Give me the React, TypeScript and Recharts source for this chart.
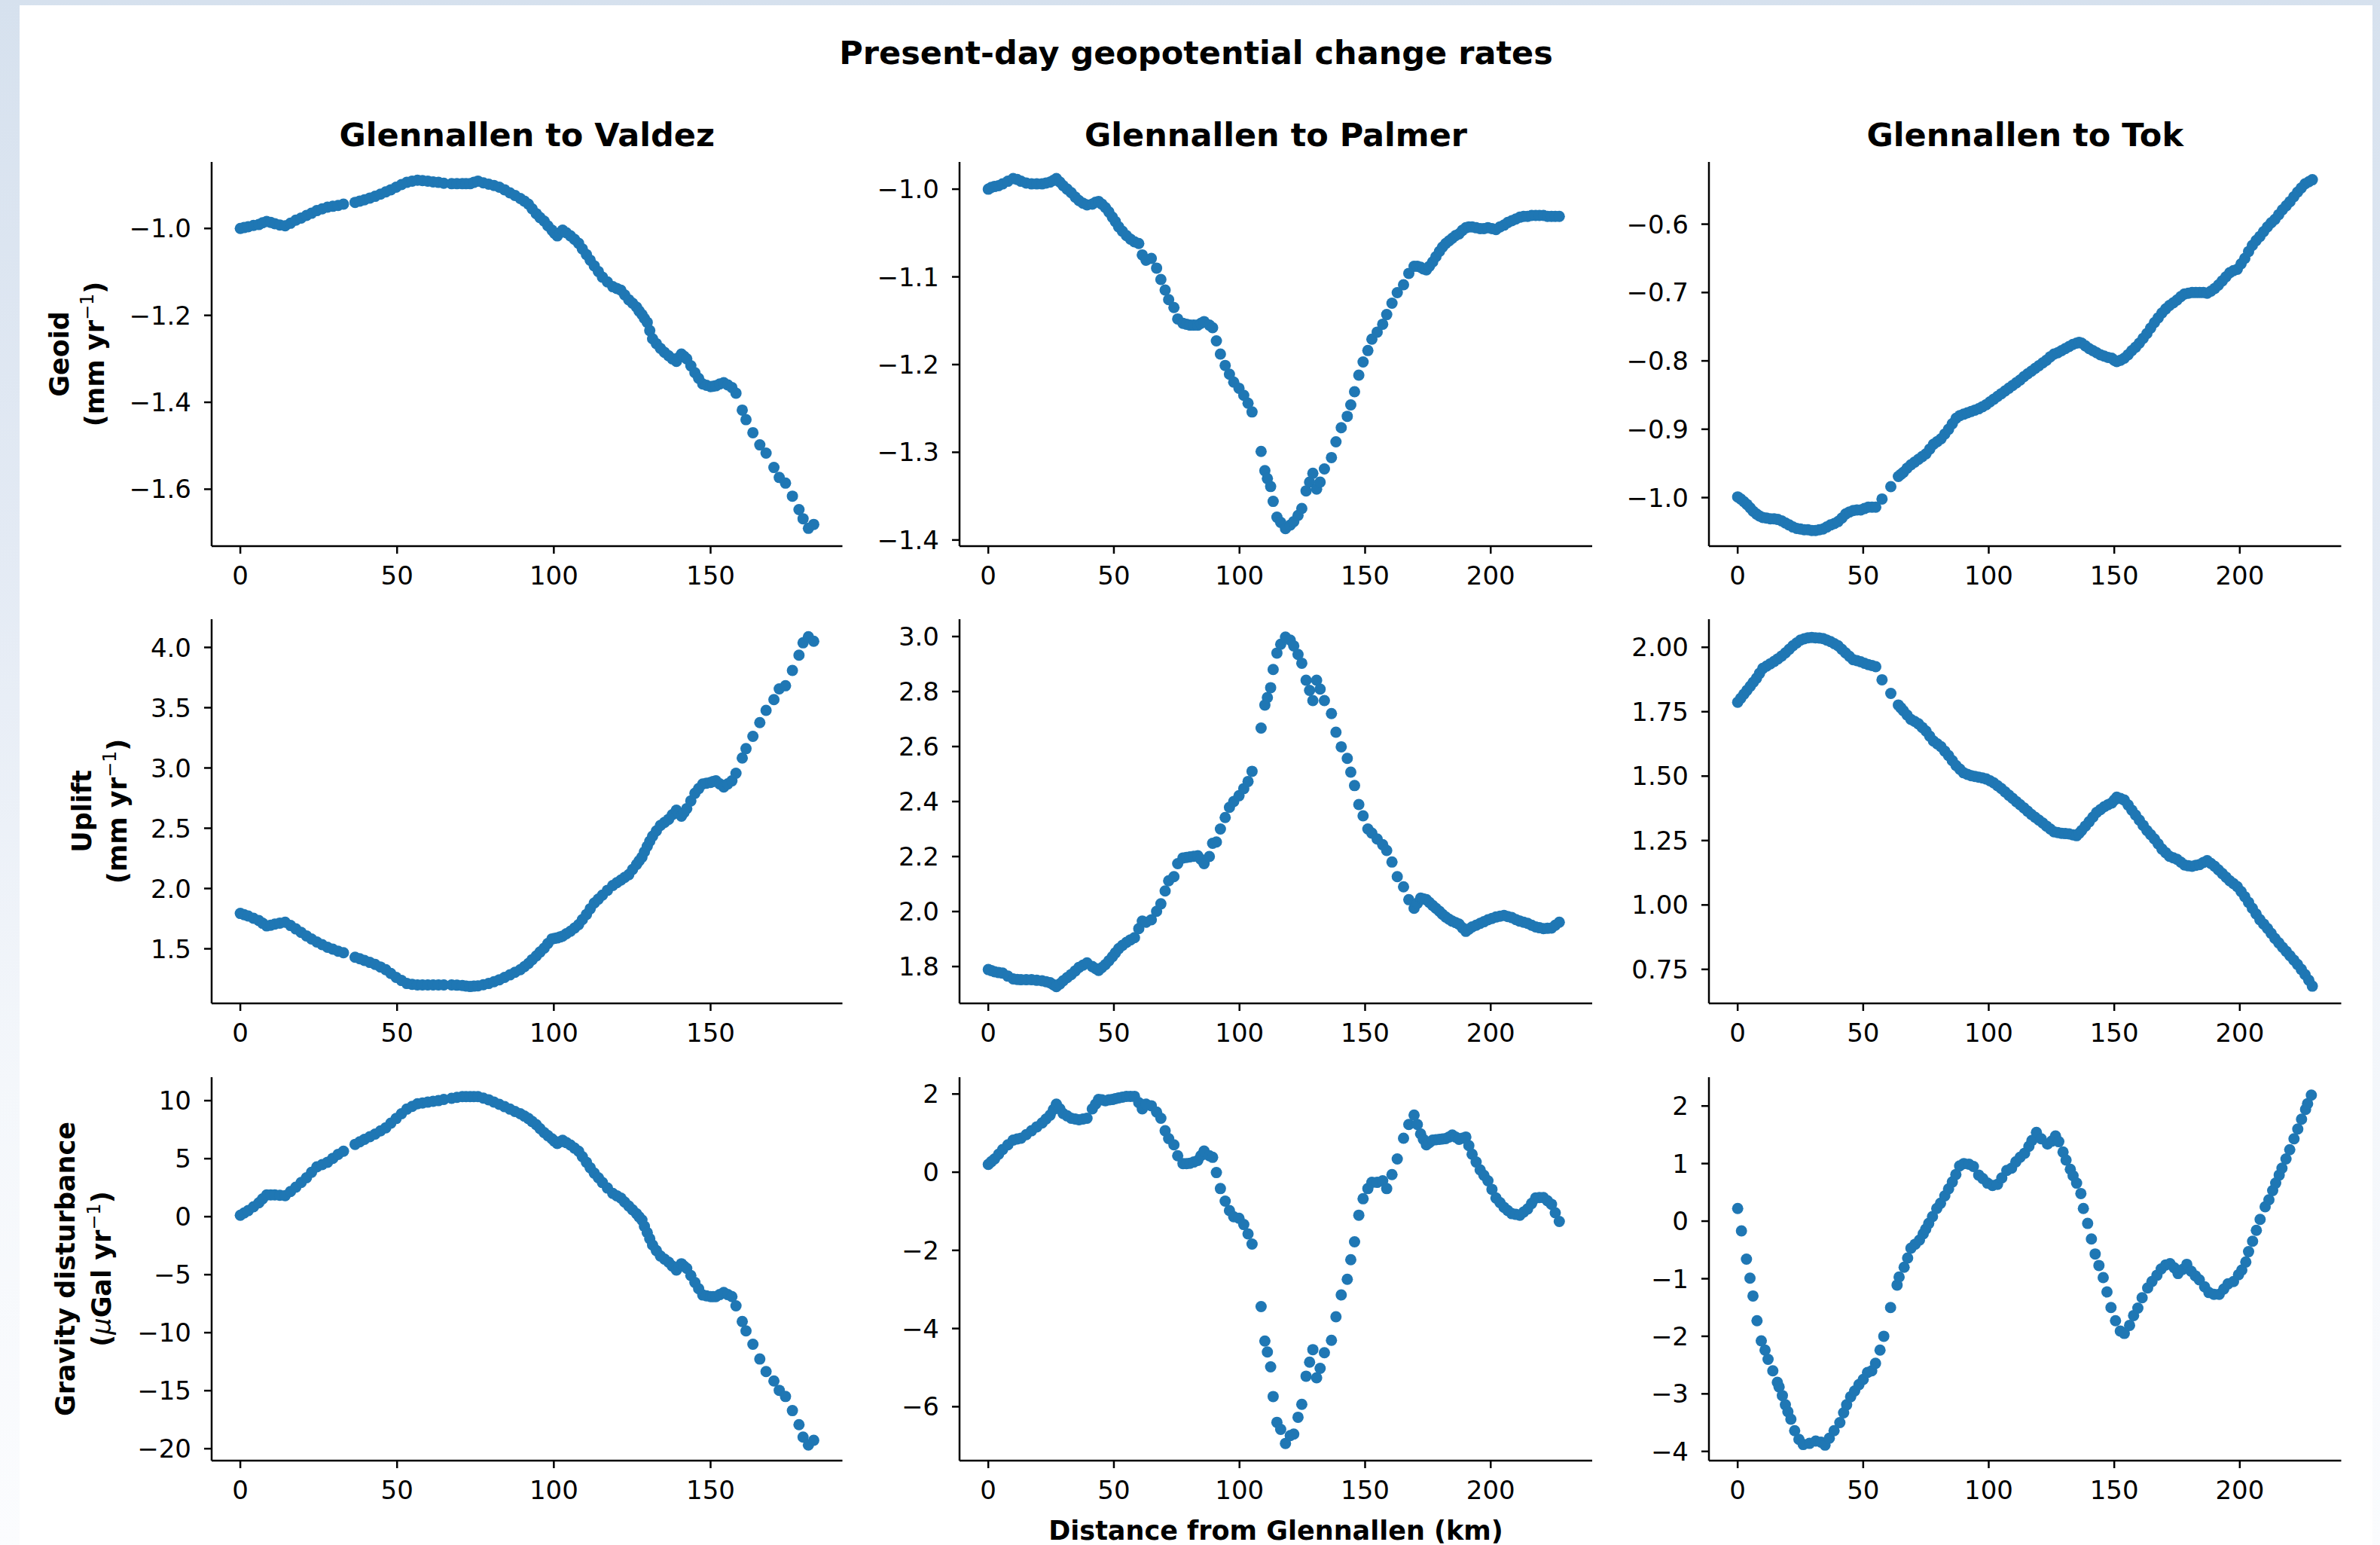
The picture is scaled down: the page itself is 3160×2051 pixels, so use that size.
import React from 'react';
import { ScatterChart, Scatter, XAxis, YAxis } from 'recharts';

// distance along each road (km) and the rates
const valdezKm = [
  0, 1.2, 2.5, 4.2, 5.9, 7.1, 8.4, 9.7, 11.0, 12.6,
  14.3, 16.0, 17.7, 19.4, 21.1, 22.7, 24.4, 26.1, 27.8, 29.5,
  31.2, 32.9, 36.6, 38.1, 39.6, 41.3, 43.0, 44.7, 46.4, 48.0,
  49.7, 51.4, 53.1, 54.8, 56.5, 58.1, 59.8, 61.5, 63.2, 64.9,
  67.4, 69.1, 70.8, 72.0, 73.3, 74.5, 75.8, 77.5, 79.2, 80.9,
  82.6, 84.3, 86.0, 87.6, 89.3, 90.6, 91.9, 93.1, 94.4, 95.6,
  96.9, 98.1, 99.4, 100.2, 101.1, 102.0, 102.8, 104.0, 105.3, 106.6,
  107.9, 109.1, 110.4, 111.6, 112.9, 114.2, 115.5, 117.1, 118.8, 120.1,
  121.4, 122.6, 123.9, 125.1, 126.4, 127.2, 128.1, 128.9, 129.8, 130.6,
  131.5, 132.7, 134.0, 135.3, 136.6, 137.8, 139.1, 139.9, 140.7, 141.5,
  142.4, 143.7, 145.0, 146.2, 147.5, 148.7, 150.0, 150.8, 151.7, 152.9,
  154.2, 155.5, 156.8, 158.1, 160.1, 161.3, 163.5, 165.7, 167.7, 170.2,
  171.9, 173.9, 176.1, 178.2, 179.5, 181.2, 182.9,
];
const valdezGeoid = [
  -1.0, -0.998, -0.996, -0.993, -0.991, -0.987, -0.984, -0.986, -0.989, -0.992,
  -0.994, -0.988, -0.981, -0.976, -0.970, -0.965, -0.959, -0.955, -0.951, -0.949,
  -0.947, -0.944, -0.940, -0.937, -0.934, -0.930, -0.926, -0.921, -0.916, -0.911,
  -0.905, -0.899, -0.894, -0.891, -0.889, -0.890, -0.891, -0.893, -0.894, -0.896,
  -0.897, -0.897, -0.897, -0.897, -0.897, -0.894, -0.891, -0.895, -0.898, -0.901,
  -0.905, -0.911, -0.918, -0.924, -0.931, -0.937, -0.944, -0.955, -0.966, -0.975,
  -0.983, -0.994, -1.004, -1.011, -1.017, -1.010, -1.004, -1.010, -1.017, -1.025,
  -1.034, -1.047, -1.060, -1.073, -1.086, -1.099, -1.112, -1.123, -1.134, -1.138,
  -1.142, -1.153, -1.164, -1.172, -1.181, -1.190, -1.198, -1.207, -1.216, -1.235,
  -1.254, -1.265, -1.276, -1.285, -1.293, -1.300, -1.306, -1.297, -1.289, -1.294,
  -1.300, -1.316, -1.332, -1.345, -1.358, -1.361, -1.364, -1.363, -1.362, -1.358,
  -1.355, -1.360, -1.366, -1.379, -1.418, -1.440, -1.470, -1.498, -1.517, -1.550,
  -1.573, -1.586, -1.616, -1.647, -1.668, -1.690, -1.681,
];
const valdezUplift = [
  1.793, 1.783, 1.772, 1.753, 1.734, 1.712, 1.690, 1.695, 1.705, 1.713,
  1.720, 1.693, 1.665, 1.636, 1.607, 1.581, 1.556, 1.534, 1.513, 1.497,
  1.480, 1.467, 1.430, 1.417, 1.403, 1.387, 1.370, 1.349, 1.327, 1.295,
  1.263, 1.237, 1.212, 1.205, 1.200, 1.200, 1.200, 1.200, 1.200, 1.200,
  1.200, 1.198, 1.195, 1.191, 1.187, 1.190, 1.192, 1.202, 1.212, 1.227,
  1.243, 1.263, 1.284, 1.305, 1.327, 1.352, 1.378, 1.410, 1.441, 1.473,
  1.505, 1.544, 1.582, 1.586, 1.590, 1.598, 1.605, 1.625, 1.645, 1.672,
  1.700, 1.742, 1.785, 1.832, 1.880, 1.912, 1.945, 1.985, 2.025, 2.048,
  2.070, 2.092, 2.115, 2.158, 2.200, 2.230, 2.260, 2.305, 2.350, 2.392,
  2.434, 2.478, 2.523, 2.548, 2.574, 2.612, 2.650, 2.625, 2.600, 2.630,
  2.663, 2.727, 2.790, 2.829, 2.867, 2.874, 2.880, 2.887, 2.893, 2.868,
  2.842, 2.868, 2.893, 2.956, 3.083, 3.160, 3.262, 3.376, 3.478, 3.567,
  3.656, 3.682, 3.809, 3.936, 4.038, 4.089, 4.051,
];
const valdezGravity = [
  0.12, 0.32, 0.52, 0.85, 1.19, 1.53, 1.87, 1.87, 1.87, 1.84,
  1.81, 2.17, 2.54, 2.95, 3.35, 3.82, 4.29, 4.49, 4.69, 5.03,
  5.37, 5.64, 6.23, 6.45, 6.66, 6.89, 7.12, 7.39, 7.66, 8.06,
  8.46, 8.87, 9.27, 9.50, 9.73, 9.80, 9.87, 9.94, 10.0, 10.1,
  10.2, 10.28, 10.35, 10.35, 10.35, 10.35, 10.35, 10.22, 10.08, 9.88,
  9.68, 9.48, 9.27, 9.07, 8.87, 8.67, 8.46, 8.2, 7.93, 7.59,
  7.25, 6.98, 6.71, 6.51, 6.31, 6.45, 6.58, 6.38, 6.18, 5.91,
  5.64, 5.17, 4.69, 4.22, 3.75, 3.35, 2.94, 2.47, 2.0, 1.8,
  1.6, 1.26, 0.92, 0.59, 0.25, -0.02, -0.29, -0.83, -1.37, -1.9,
  -2.44, -2.92, -3.39, -3.66, -3.92, -4.26, -4.6, -4.33, -4.06, -4.26,
  -4.46, -5.07, -5.67, -6.21, -6.75, -6.82, -6.89, -6.89, -6.89, -6.72,
  -6.54, -6.72, -6.89, -7.69, -9.04, -9.85, -11.0, -12.27, -13.35, -14.16,
  -14.97, -15.5, -16.72, -17.93, -19.0, -19.68, -19.28,
];

const palmerKm = [
  0, 1.2, 2.5, 4.1, 5.7, 7.8, 9.9, 11.5, 13, 15.1,
  17.2, 19.3, 21.4, 23.0, 24.6, 25.9, 27.1, 28.5, 29.8, 31.4,
  33, 34.6, 36.1, 37.7, 39.3, 41.4, 42.7, 43.9, 45.2, 46.6,
  48.0, 49.4, 50.6, 51.9, 53.4, 55, 56.6, 58.2, 59.9, 61.3,
  62.8, 64.9, 67, 68.7, 70.4, 71.8, 73.9, 75.4, 77.5, 78.9,
  80.3, 81.8, 83.4, 84.6, 85.9, 88, 89.3, 90.8, 92.4, 94.3,
  96, 97.7, 99.8, 101.7, 103.4, 105, 108.6, 110.1, 111.1, 112.4,
  113.4, 114.9, 116.4, 118.3, 120.2, 121.6, 123.3, 124.8, 126.5, 127.9,
  129.2, 130.7, 132.1, 133.8, 136.6, 138.4, 140.5, 142.9, 144.3, 145.8,
  147.5, 149.2, 151.1, 152.7, 154.8, 157, 158.6, 160.7, 162.8, 165.3,
  167.4, 169.5, 170.8, 172.1, 173.2, 174.4, 175.6, 176.9, 178.2, 179.6,
  180.8, 182.1, 183.4, 184.7, 186.0, 187.4, 188.7, 190.1, 191.3, 192.6,
  194.2, 195.8, 197.3, 198.9, 200.5, 202.1, 203.7, 205.3, 206.8, 208.4,
  210.0, 211.6, 213.1, 214.7, 216.3, 217.9, 219.4, 221, 222.6, 224.2,
  225.7, 227.3,
];
const palmerGeoid = [
  -1.0, -0.998, -0.997, -0.996, -0.994, -0.991, -0.988, -0.989, -0.991, -0.993,
  -0.994, -0.994, -0.994, -0.993, -0.992, -0.990, -0.988, -0.992, -0.996, -1.0,
  -1.004, -1.009, -1.013, -1.016, -1.018, -1.017, -1.015, -1.014, -1.017, -1.021,
  -1.026, -1.032, -1.037, -1.043, -1.048, -1.053, -1.057, -1.06, -1.062, -1.075,
  -1.081, -1.079, -1.09, -1.103, -1.115, -1.126, -1.135, -1.148, -1.153, -1.154,
  -1.155, -1.155, -1.155, -1.153, -1.151, -1.155, -1.158, -1.173, -1.188, -1.201,
  -1.211, -1.22, -1.227, -1.235, -1.244, -1.254, -1.299, -1.321, -1.33, -1.339,
  -1.356, -1.374, -1.38, -1.387, -1.383, -1.379, -1.372, -1.364, -1.344, -1.334,
  -1.324, -1.342, -1.334, -1.319, -1.306, -1.288, -1.272, -1.259, -1.246, -1.231,
  -1.212, -1.197, -1.184, -1.171, -1.163, -1.154, -1.143, -1.13, -1.118, -1.109,
  -1.096, -1.088, -1.088, -1.089, -1.091, -1.092, -1.088, -1.083, -1.077, -1.071,
  -1.066, -1.062, -1.059, -1.056, -1.053, -1.051, -1.047, -1.044, -1.043, -1.043,
  -1.044, -1.045, -1.045, -1.044, -1.045, -1.046, -1.043, -1.041, -1.038, -1.036,
  -1.034, -1.032, -1.031, -1.031, -1.030, -1.03, -1.03, -1.03, -1.031, -1.031,
  -1.031, -1.031,
];
const palmerUplift = [
  1.789, 1.785, 1.781, 1.778, 1.776, 1.765, 1.755, 1.753, 1.752, 1.752,
  1.752, 1.750, 1.748, 1.745, 1.741, 1.734, 1.727, 1.737, 1.748, 1.760,
  1.771, 1.784, 1.797, 1.805, 1.813, 1.8, 1.793, 1.786, 1.796, 1.807,
  1.821, 1.836, 1.850, 1.865, 1.877, 1.888, 1.897, 1.905, 1.938, 1.965,
  1.961, 1.97, 2.001, 2.028, 2.075, 2.112, 2.127, 2.174, 2.195, 2.197,
  2.199, 2.201, 2.203, 2.19, 2.174, 2.2, 2.248, 2.253, 2.3, 2.342,
  2.379, 2.4, 2.421, 2.447, 2.473, 2.51, 2.667, 2.751, 2.778, 2.814,
  2.88, 2.94, 2.972, 2.998, 2.987, 2.966, 2.935, 2.903, 2.841, 2.804,
  2.767, 2.841, 2.809, 2.767, 2.72, 2.652, 2.599, 2.557, 2.507, 2.458,
  2.389, 2.348, 2.3, 2.285, 2.264, 2.243, 2.222, 2.18, 2.127, 2.09,
  2.043, 2.012, 2.03, 2.049, 2.046, 2.043, 2.033, 2.022, 2.012, 2.001,
  1.99, 1.98, 1.972, 1.965, 1.96, 1.954, 1.941, 1.928, 1.936, 1.944,
  1.95, 1.957, 1.963, 1.97, 1.975, 1.98, 1.983, 1.986, 1.982, 1.978,
  1.971, 1.965, 1.961, 1.957, 1.95, 1.944, 1.941, 1.938, 1.939, 1.94,
  1.95, 1.961,
];
const palmerGravity = [
  0.2, 0.27, 0.34, 0.46, 0.58, 0.70, 0.82, 0.85, 0.87, 0.96,
  1.06, 1.16, 1.26, 1.36, 1.46, 1.60, 1.74, 1.62, 1.5, 1.44,
  1.38, 1.36, 1.34, 1.36, 1.38, 1.62, 1.74, 1.86, 1.85, 1.83,
  1.85, 1.86, 1.88, 1.9, 1.92, 1.94, 1.94, 1.94, 1.78, 1.62,
  1.74, 1.7, 1.54, 1.38, 1.06, 0.86, 0.7, 0.42, 0.22, 0.22,
  0.23, 0.26, 0.3, 0.42, 0.54, 0.42, 0.38, -0.01, -0.42, -0.74,
  -0.98, -1.14, -1.18, -1.34, -1.58, -1.84, -3.44, -4.32, -4.6, -4.98,
  -5.74, -6.4, -6.58, -6.94, -6.74, -6.7, -6.27, -5.94, -5.22, -4.86,
  -4.54, -5.26, -5.02, -4.62, -4.3, -3.7, -3.14, -2.74, -2.24, -1.78,
  -1.1, -0.68, -0.42, -0.26, -0.26, -0.22, -0.42, -0.06, 0.34, 0.87,
  1.22, 1.46, 1.22, 0.98, 0.84, 0.7, 0.76, 0.82, 0.83, 0.84,
  0.85, 0.86, 0.9, 0.95, 0.9, 0.84, 0.87, 0.9, 0.68, 0.46,
  0.26, 0.06, -0.08, -0.22, -0.44, -0.66, -0.78, -0.9, -0.98, -1.06,
  -1.08, -1.1, -1.02, -0.94, -0.8, -0.66, -0.65, -0.65, -0.73, -0.82,
  -1.04, -1.26,
];

const tokKm = [
  0, 1.2, 2.5, 3.7, 5, 6.2, 7.5, 8.7, 10, 11.5,
  13, 14.5, 16, 17.5, 19, 20.5, 22, 23.5, 25, 26.5,
  28, 29.5, 31, 32.5, 34, 35.5, 37, 38.5, 40, 41.5,
  43, 44.5, 46, 47.5, 49, 50.5, 52, 53.5, 55, 57.5,
  61, 64, 65, 66, 67.5, 69, 70.5, 72, 73.5, 75,
  76.5, 78, 79.5, 81, 82.5, 84, 85.5, 87, 88.5, 90,
  91.5, 93, 94.5, 96, 97.5, 99, 100.5, 102, 103.5, 105,
  106.5, 108, 109.5, 111, 112.5, 114, 115.5, 117, 118.5, 120,
  121.5, 123, 124.5, 126, 127.5, 129, 130.5, 132, 133.5, 135,
  136, 137, 138.5, 140, 141.5, 143, 144.5, 146, 147.5, 149,
  150, 151, 152.5, 154, 155.5, 157, 158.5, 160, 161.5, 163,
  164.5, 166, 167.5, 169, 170.5, 172, 173.5, 175, 176.5, 178,
  179.5, 181, 182.5, 184, 185.5, 187, 188.5, 190, 191.5, 193,
  194.5, 196, 197.5, 199, 200.5, 202, 203.5, 205, 206.5, 208,
  209.5, 211, 212.5, 214, 215.5, 217, 218.5, 220, 221.5, 223,
  224.5, 226, 227.5, 228.9,
];
const tokGeoid = [
  -0.999, -1.002, -1.006, -1.010, -1.015, -1.020, -1.024, -1.027, -1.029, -1.030,
  -1.031, -1.031, -1.032, -1.034, -1.037, -1.040, -1.043, -1.045, -1.046, -1.047,
  -1.047, -1.048, -1.048, -1.047, -1.046, -1.043, -1.040, -1.038, -1.035, -1.030,
  -1.024, -1.021, -1.019, -1.018, -1.018, -1.016, -1.014, -1.014, -1.014, -1.002,
  -0.984, -0.969, -0.966, -0.963, -0.957, -0.952, -0.948, -0.944, -0.940, -0.936,
  -0.929, -0.922, -0.918, -0.914, -0.907, -0.900, -0.892, -0.884, -0.880, -0.878,
  -0.876, -0.874, -0.872, -0.870, -0.867, -0.864, -0.860, -0.856, -0.852, -0.848,
  -0.844, -0.840, -0.836, -0.832, -0.828, -0.823, -0.819, -0.815, -0.811, -0.807,
  -0.803, -0.799, -0.794, -0.790, -0.788, -0.785, -0.782, -0.779, -0.776, -0.774,
  -0.773, -0.774, -0.778, -0.782, -0.785, -0.788, -0.791, -0.793, -0.795, -0.796,
  -0.799, -0.801, -0.799, -0.796, -0.791, -0.785, -0.780, -0.774, -0.767, -0.760,
  -0.752, -0.744, -0.737, -0.730, -0.724, -0.719, -0.715, -0.711, -0.706, -0.702,
  -0.701, -0.700, -0.700, -0.700, -0.700, -0.701, -0.698, -0.694, -0.689, -0.683,
  -0.677, -0.671, -0.668, -0.666, -0.658, -0.650, -0.640, -0.631, -0.624, -0.618,
  -0.611, -0.604, -0.598, -0.593, -0.586, -0.579, -0.573, -0.567, -0.560, -0.553,
  -0.547, -0.541, -0.538, -0.535,
];
const tokUplift = [
  1.787, 1.802, 1.818, 1.833, 1.849, 1.864, 1.880, 1.899, 1.918, 1.927,
  1.936, 1.945, 1.955, 1.966, 1.978, 1.992, 2.006, 2.017, 2.028, 2.033,
  2.037, 2.038, 2.037, 2.036, 2.034, 2.028, 2.022, 2.014, 2.006, 1.992,
  1.978, 1.965, 1.952, 1.948, 1.944, 1.938, 1.933, 1.929, 1.925, 1.874,
  1.821, 1.776, 1.765, 1.754, 1.737, 1.720, 1.712, 1.703, 1.689, 1.675,
  1.655, 1.636, 1.625, 1.614, 1.597, 1.580, 1.560, 1.541, 1.527, 1.513,
  1.507, 1.502, 1.499, 1.496, 1.493, 1.489, 1.482, 1.474, 1.463, 1.452,
  1.439, 1.426, 1.414, 1.401, 1.389, 1.377, 1.364, 1.351, 1.340, 1.329,
  1.318, 1.306, 1.295, 1.284, 1.281, 1.278, 1.277, 1.276, 1.272, 1.269,
  1.278, 1.289, 1.306, 1.323, 1.341, 1.359, 1.370, 1.381, 1.389, 1.396,
  1.407, 1.418, 1.413, 1.407, 1.388, 1.368, 1.349, 1.329, 1.309, 1.289,
  1.273, 1.256, 1.237, 1.217, 1.203, 1.189, 1.183, 1.177, 1.166, 1.155,
  1.152, 1.150, 1.154, 1.157, 1.165, 1.172, 1.161, 1.150, 1.136, 1.122,
  1.108, 1.094, 1.083, 1.071, 1.052, 1.032, 1.010, 0.987, 0.965, 0.943,
  0.926, 0.909, 0.890, 0.870, 0.853, 0.836, 0.820, 0.803, 0.786, 0.769,
  0.750, 0.730, 0.708, 0.685,
];
const tokGravityKm = [0, 1.5, 3.5, 4.9, 6.1, 7.7, 9.4, 10.9, 12.1, 14.0, 15.8, 16.5, 17.8, 19.0, 20.0, 21.2, 22.7, 24.4, 26.1, 28.6, 31.1, 33.2, 34.8, 36.5, 38.4, 40.7, 42.2, 43.4, 45.0, 46.6, 48.3, 50.0, 51.7, 53.4, 54.9, 56.7, 58.2, 60.9, 63.5, 64.3, 66.3, 67.7, 69.0, 70.7, 72.4, 73.9, 74.9, 76.1, 77.6, 79.3, 80.8, 82.5, 84.0, 85.5, 86.9, 88.4, 90.1, 92.1, 93.9, 96.0, 97.6, 99.5, 101.5, 103.5, 105.2, 107.2, 109.1, 110.8, 112.5, 114.3, 116.0, 117.2, 119.0, 120.9, 123.4, 125.1, 126.6, 127.9, 129.6, 130.8, 132.5, 133.6, 135.0, 136.7, 137.7, 139.4, 140.9, 142.4, 143.9, 145.6, 147.1, 148.7, 150.5, 152.4, 154.0, 156.1, 157.7, 159.4, 161.1, 163.3, 165.0, 167.0, 168.7, 170.5, 172.2, 173.9, 175.4, 177.2, 178.9, 180.6, 182.3, 183.9, 186.0, 187.7, 189.7, 191.8, 193.6, 195.3, 197.5, 199.5, 200.8, 202.4, 203.5, 205.1, 206.6, 208.1, 210.1, 211.6, 213.1, 214.3, 215.7, 216.8, 218.4, 219.9, 221.6, 223.1, 224.6, 226.2, 227.0, 228.5];
const tokGravity = [0.22, -0.17, -0.66, -0.99, -1.3, -1.73, -2.08, -2.24, -2.4, -2.6, -2.8, -2.88, -3.03, -3.19, -3.31, -3.44, -3.64, -3.79, -3.88, -3.86, -3.82, -3.84, -3.89, -3.77, -3.64, -3.5, -3.33, -3.19, -3.05, -2.95, -2.84, -2.75, -2.63, -2.6, -2.47, -2.24, -2.0, -1.5, -1.11, -0.97, -0.8, -0.64, -0.47, -0.4, -0.33, -0.22, -0.14, -0.04, 0.08, 0.22, 0.31, 0.44, 0.56, 0.68, 0.81, 0.96, 1.0, 0.99, 0.95, 0.8, 0.74, 0.66, 0.62, 0.64, 0.75, 0.88, 0.92, 1.03, 1.11, 1.18, 1.3, 1.4, 1.54, 1.43, 1.34, 1.39, 1.48, 1.38, 1.2, 1.06, 0.9, 0.79, 0.66, 0.48, 0.22, -0.04, -0.31, -0.57, -0.77, -0.98, -1.23, -1.5, -1.73, -1.91, -1.95, -1.81, -1.64, -1.51, -1.33, -1.16, -1.05, -0.94, -0.83, -0.76, -0.74, -0.81, -0.91, -0.84, -0.75, -0.87, -0.95, -1.02, -1.14, -1.24, -1.27, -1.27, -1.18, -1.09, -1.05, -0.93, -0.85, -0.71, -0.53, -0.35, -0.16, 0.03, 0.25, 0.37, 0.53, 0.66, 0.8, 0.92, 1.08, 1.24, 1.43, 1.6, 1.77, 1.94, 2.04, 2.19];

const routeTitles = ['Glennallen to Valdez', 'Glennallen to Palmer', 'Glennallen to Tok'];
const valdezKmTicks = [0, 50, 100, 150];
const longKmTicks = [0, 50, 100, 150, 200];
const valdezGeoidTicks = [-1.6, -1.4, -1.2, -1.0];
const palmerGeoidTicks = [-1.4, -1.3, -1.2, -1.1, -1.0];
const tokGeoidTicks = [-1.0, -0.9, -0.8, -0.7, -0.6];
const valdezUpliftTicks = [1.5, 2.0, 2.5, 3.0, 3.5, 4.0];
const palmerUpliftTicks = [1.8, 2.0, 2.2, 2.4, 2.6, 2.8, 3.0];
const tokUpliftTicks = [0.75, 1.0, 1.25, 1.5, 1.75, 2.0];
const valdezGravityTicks = [-20, -15, -10, -5, 0, 5, 10];
const palmerGravityTicks = [-6, -4, -2, 0, 2];
const tokGravityTicks = [-4, -3, -2, -1, 0, 1, 2];

const FONT = 'DejaVu Sans';
const BLUE = '#1f77b4';
const COL_LEFT = [281, 1274, 2269];
const COL_RIGHT = [1118.5, 2114, 3108.5];
const ROW_TOP = [215, 822, 1430];
const ROW_BOTTOM = [725, 1332, 1939];
const X_DOMAINS = [[-9.15, 192.05], [-11.45, 240.4], [-11.45, 240.4]];

const fmt = (v: number, dec: number) => v.toFixed(dec).replace('-', '\u2212');

const Dot = (props: any) => <circle cx={props.cx} cy={props.cy} r={7.5} fill={BLUE} />;

const axisStyle = { stroke: '#000', strokeWidth: 2.5 };
const tickStyle = { fill: '#000', fontSize: 34, fontFamily: FONT };

function Panel({ row, col, xs, ys, yDomain, yTicks, dec }: any) {
  const left = COL_LEFT[col];
  const top = ROW_TOP[row];
  const w = COL_RIGHT[col] - left;
  const h = ROW_BOTTOM[row] - top;
  const YW = 160;
  const XH = 80;
  const PAD = 14;
  const data = xs.map((x: number, i: number) => ({ x, y: ys[i] }));
  return (
    <div style={{ position: 'absolute', left: left - YW, top: top - PAD }}>
      <ScatterChart
        width={w + YW + PAD}
        height={h + PAD + XH}
        margin={{ top: PAD, right: PAD, bottom: 0, left: 0 }}
      >
        <XAxis
          type="number"
          dataKey="x"
          domain={X_DOMAINS[col]}
          ticks={col === 0 ? valdezKmTicks : longKmTicks}
          allowDataOverflow
          interval={0}
          height={XH}
          tickSize={10}
          tickMargin={17}
          axisLine={axisStyle}
          tickLine={axisStyle}
          tick={tickStyle}
        />
        <YAxis
          type="number"
          dataKey="y"
          domain={yDomain}
          ticks={yTicks}
          allowDataOverflow
          interval={0}
          width={YW}
          tickSize={10}
          tickMargin={17}
          axisLine={axisStyle}
          tickLine={axisStyle}
          tick={tickStyle}
          tickFormatter={(v: number) => fmt(v, dec)}
        />
        <Scatter data={data} isAnimationActive={false} shape={Dot} />
      </ScatterChart>
    </div>
  );
}

const panels = [
  { row: 0, col: 0, xs: valdezKm, ys: valdezGeoid, yDomain: [-1.731, -0.847], yTicks: valdezGeoidTicks, dec: 1 },
  { row: 0, col: 1, xs: palmerKm, ys: palmerGeoid, yDomain: [-1.407, -0.969], yTicks: palmerGeoidTicks, dec: 1 },
  { row: 0, col: 2, xs: tokKm, ys: tokGeoid, yDomain: [-1.071, -0.509], yTicks: tokGeoidTicks, dec: 1 },
  { row: 1, col: 0, xs: valdezKm, ys: valdezUplift, yDomain: [1.047, 4.234], yTicks: valdezUpliftTicks, dec: 1 },
  { row: 1, col: 1, xs: palmerKm, ys: palmerUplift, yDomain: [1.666, 3.063], yTicks: palmerUpliftTicks, dec: 1 },
  { row: 1, col: 2, xs: tokKm, ys: tokUplift, yDomain: [0.618, 2.109], yTicks: tokUpliftTicks, dec: 2 },
  { row: 2, col: 0, xs: valdezKm, ys: valdezGravity, yDomain: [-21.03, 12.02], yTicks: valdezGravityTicks, dec: 0 },
  { row: 2, col: 1, xs: palmerKm, ys: palmerGravity, yDomain: [-7.38, 2.43], yTicks: palmerGravityTicks, dec: 0 },
  { row: 2, col: 2, xs: tokGravityKm, ys: tokGravity, yDomain: [-4.16, 2.5], yTicks: tokGravityTicks, dec: 0 },
];

const Sup = () => (
  <>
    <tspan dy={-14} fontSize={24} fontWeight="normal">{'\u22121'}</tspan>
    <tspan dy={14}>)</tspan>
  </>
);

function YLabel({ x1, x2, cy, first, second }: any) {
  return (
    <g fontFamily={FONT} fontWeight="bold" fontSize={35} fill="#000" textAnchor="middle">
      <text transform={`translate(${x1},${cy}) rotate(-90)`}>{first}</text>
      <text transform={`translate(${x2},${cy}) rotate(-90)`}>{second}</text>
    </g>
  );
}

export default function App() {
  return (
    <div
      style={{
        position: 'absolute', left: 0, top: 0, width: 3160, height: 2051, overflow: 'hidden',
        background: 'linear-gradient(180deg, #d6e1ee 0%, #e3eaf4 35%, #f4f7fb 70%, #fbfcfe 100%)',
      }}
    >
      <div style={{ position: 'absolute', left: 26, top: 7, width: 3124, height: 2044, background: '#fff' }} />
      {panels.map((p, i) => <Panel key={i} {...p} />)}
      <svg width={3160} height={2051} style={{ position: 'absolute', left: 0, top: 0, pointerEvents: 'none' }}>
        <text x={1588} y={85} textAnchor="middle" fontFamily={FONT} fontWeight="bold" fontSize={43}>
          Present-day geopotential change rates
        </text>
        {routeTitles.map((t, c) => (
          <text key={t} x={(COL_LEFT[c] + COL_RIGHT[c]) / 2} y={194} textAnchor="middle" fontFamily={FONT} fontWeight="bold" fontSize={43}>
            {t}
          </text>
        ))}
        <YLabel x1={91} x2={138} cy={(ROW_TOP[0] + ROW_BOTTOM[0]) / 2} first="Geoid" second={<>(mm yr<Sup /></>} />
        <YLabel x1={121} x2={168} cy={(ROW_TOP[1] + ROW_BOTTOM[1]) / 2} first="Uplift" second={<>(mm yr<Sup /></>} />
        <YLabel
          x1={99}
          x2={147}
          cy={(ROW_TOP[2] + ROW_BOTTOM[2]) / 2}
          first="Gravity disturbance"
          second={<>(<tspan fontStyle="italic" fontWeight="normal">{'\u03bc'}</tspan>Gal yr<Sup /></>}
        />
        <text x={(COL_LEFT[1] + COL_RIGHT[1]) / 2} y={2044} textAnchor="middle" fontFamily={FONT} fontWeight="bold" fontSize={35}>
          Distance from Glennallen (km)
        </text>
      </svg>
    </div>
  );
}
